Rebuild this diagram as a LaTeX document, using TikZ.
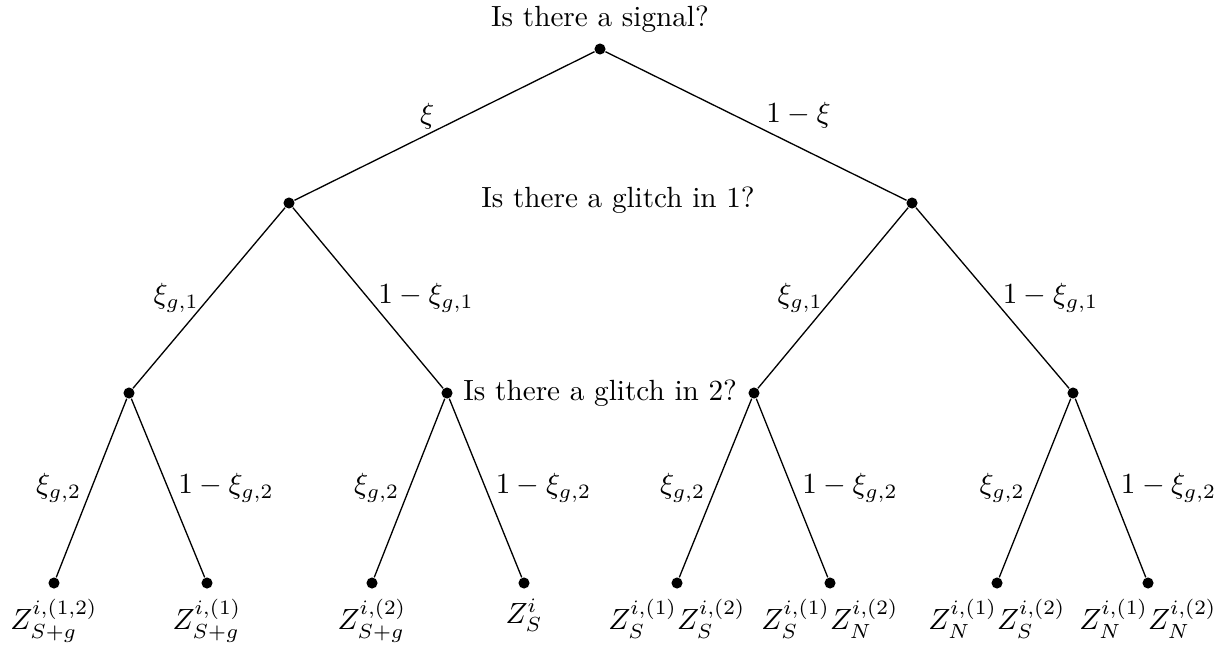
\documentclass[tikz,border=0pt]{standalone}
\begin{document}
\begin{tikzpicture}[x=0.3425pt,y=-0.3425pt,
  dot/.style={circle,fill=black,inner sep=0pt,minimum size=3.8pt},
  edgelab/.style={midway,font=\normalsize},
  conn/.style={line width=0.45pt}]
\useasboundingbox (0,0) rectangle (1226,647);
% nodes
\node[dot,label={above:Is there a signal?}] (r) at (600,49) {};
\node[dot] (a) at (289,203) {};
\node[dot] (b) at (912,203) {};
\node[dot] (aa) at (129,393) {};
\node[dot,label={right:Is there a glitch in 2?}] (ab) at (447,393) {};
\node[dot] (ba) at (754,393) {};
\node[dot] (bb) at (1073,393) {};
\node[dot,label={below:$Z^{i,(1,2)}_{S+g}$}] (l1) at (54,583) {};
\node[dot,label={below:$Z^{i,(1)}_{S+g}$}] (l2) at (207,583) {};
\node[dot,label={below:$Z^{i,(2)}_{S+g}$}] (l3) at (372,583) {};
\node[dot,label={below:$Z^{i}_{S}$}] (l4) at (524,583) {};
\node[dot,label={below:$Z^{i,(1)}_{S}Z^{i,(2)}_{S}$}] (l5) at (677,583) {};
\node[dot,label={below:$Z^{i,(1)}_{S}Z^{i,(2)}_{N}$}] (l6) at (830,583) {};
\node[dot,label={below:$Z^{i,(1)}_{N}Z^{i,(2)}_{S}$}] (l7) at (997,583) {};
\node[dot,label={below:$Z^{i,(1)}_{N}Z^{i,(2)}_{N}$}] (l8) at (1148,583) {};
\node (q1) at (618,200) {Is there a glitch in 1?};
% edges
\draw[conn] (r) -- node[edgelab,left,yshift=3.4pt] {$\xi$} (a);
\draw[conn] (r) -- node[edgelab,right,yshift=3.6pt] {$1-\xi$} (b);
\draw[conn] (a) -- node[edgelab,left] {$\xi_{g,1}$} (aa);
\draw[conn] (a) -- node[edgelab,right] {$1-\xi_{g,1}$} (ab);
\draw[conn] (b) -- node[edgelab,left] {$\xi_{g,1}$} (ba);
\draw[conn] (b) -- node[edgelab,right] {$1-\xi_{g,1}$} (bb);
\draw[conn] (aa) -- node[edgelab,left] {$\xi_{g,2}$} (l1);
\draw[conn] (aa) -- node[edgelab,right] {$1-\xi_{g,2}$} (l2);
\draw[conn] (ab) -- node[edgelab,left] {$\xi_{g,2}$} (l3);
\draw[conn] (ab) -- node[edgelab,right] {$1-\xi_{g,2}$} (l4);
\draw[conn] (ba) -- node[edgelab,left] {$\xi_{g,2}$} (l5);
\draw[conn] (ba) -- node[edgelab,right] {$1-\xi_{g,2}$} (l6);
\draw[conn] (bb) -- node[edgelab,left] {$\xi_{g,2}$} (l7);
\draw[conn] (bb) -- node[edgelab,right] {$1-\xi_{g,2}$} (l8);
\end{tikzpicture}
\end{document}
